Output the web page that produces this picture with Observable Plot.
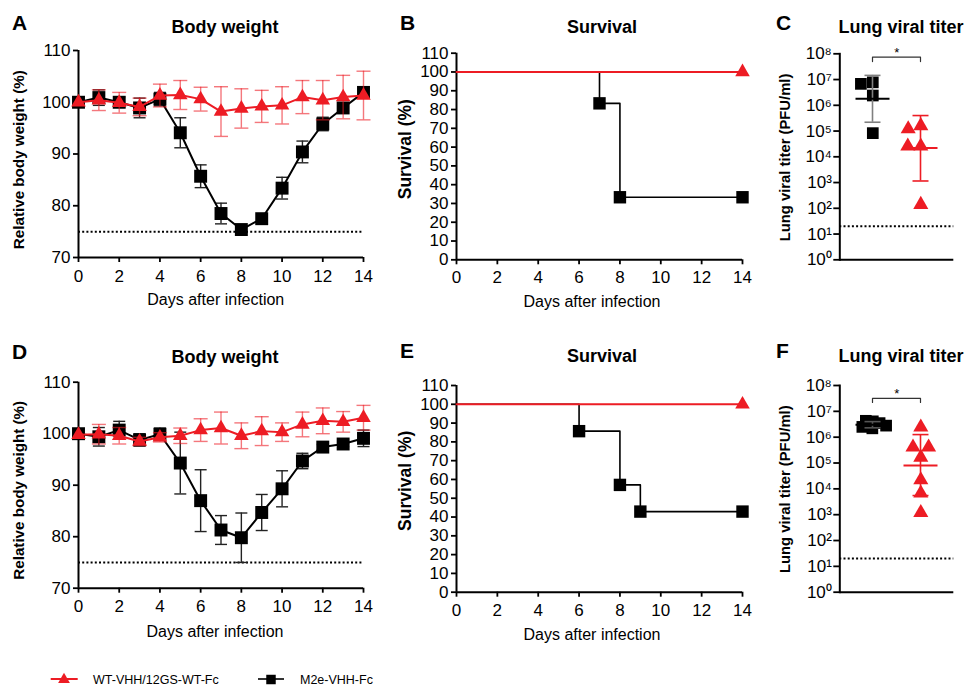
<!DOCTYPE html>
<html><head><meta charset="utf-8">
<script src="https://cdn.jsdelivr.net/npm/d3@7"></script>
<script src="https://cdn.jsdelivr.net/npm/@observablehq/plot@0.6"></script>
<style>
html,body{margin:0;padding:0;background:#fff;}
#fig{position:relative;width:968px;height:686px;overflow:hidden;font-family:"Liberation Sans",Arial,sans-serif;}
#fig .panel{position:absolute;}
#overlay{position:absolute;left:0;top:0;pointer-events:none;}
</style></head><body>
<div id="fig"></div>
<script>
// ---------- data ----------
const days = [0,1,2,3,4,5,6,7,8,9,10,11,12,13,14];
const dayTicks = [0,2,4,6,8,10,12,14];
const weightTicks = [70,80,90,100,110];
const survivalTicks = [0,10,20,30,40,50,60,70,80,90,100,110];
const titerTicks = [1,10,100,1e3,1e4,1e5,1e6,1e7,1e8];
const groups = ["M2e-VHH-Fc","WT-VHH/12GS-WT-Fc"];
const weightThreshold = 75;
const detectionLimit = 20;

// Panel A – body weight (%), mean and SD
const weightA_M2e   = [100,100.9,100.0,98.9,100.6,94.1,85.7,78.5,75.4,77.5,83.4,90.4,95.8,98.9,101.9];
const weightA_M2eSD = [0,1.5,1.0,1.9,1.3,2.9,2.2,2.0,0,0,2.1,2.1,1.3,0,0];
const weightA_WT    = [100,100.4,99.9,99.1,101.3,101.4,100.6,98.2,98.8,99.2,99.4,101.0,100.4,101.0,101.3];
const weightA_WTSD  = [0,2.0,2.0,1.7,2.2,2.8,2.3,4.8,3.8,3.1,3.6,3.2,3.8,4.2,4.7];

// Panel D – body weight (%), mean and SD
const weightD_M2e   = [100,99.4,100.7,98.8,99.9,94.3,87.0,81.3,79.8,84.7,89.3,94.7,97.4,98.0,99.1];
const weightD_M2eSD = [0,1.8,1.7,1.2,1.2,6.0,6.0,2.8,4.8,3.5,3.5,1.5,0.5,0.5,1.6];
const weightD_WT    = [99.8,99.9,99.6,98.5,99.3,99.6,100.7,101.1,99.6,100.5,100.3,101.8,102.5,102.3,103.1];
const weightD_WTSD  = [0,1.9,1.6,0.8,0.9,1.5,2.2,3.1,2.5,2.8,1.8,2.4,2.5,2.0,2.4];

// Panels B and E – survival (%)
const survB_M2eDays = [0,7,8,14];
const survB_M2e     = [100,83.3,33.3,33.3];
const survB_WTDays  = [0,14];
const survB_WT      = [100,100];
const survE_M2eDays = [0,6,8,9,14];
const survE_M2e     = [100,85.7,57.1,42.9,42.9];
const survE_WTDays  = [0,14];
const survE_WT      = [100,100];

// Panels C and F – lung viral titer (PFU/ml)
const titerC_M2e  = [8.3e4,7.8e6,6.8e6,2.4e6];
const titerC_WT   = [1.6e5,1.2e5,2.6e4,2.6e4,1.4e2];
const titerC_mean = [1.8e6,2.2e4];
const titerC_low  = [2.2e5,1.15e3];
const titerC_high = [1.45e7,4.0e5];
const bracketC    = [5.0e7,7.4e7];
const titerF_M2e  = [4.1e6,4.3e6,3.5e6,2.5e6,2.8e6,2.2e6];
const titerF_WT   = [2.45e6,1.66e5,2.2e4,6.8e3,1.2e3,4.1e5,4.1e5];
const titerF_mean = [3.0e6,8.1e4];
const titerF_low  = [2.3e6,5.5e3];
const titerF_high = [4.0e6,1.26e6];
const bracketF    = [2.2e7,3.2e7];

// ---------- styles ----------
const RED = "#ed1c24";
const BLACK = "#000";
const plotStyle = {fontFamily:'"Liberation Sans", Arial, sans-serif', fontSize:"17px", background:"transparent", overflow:"visible", color:"#000"};
const hbar = {draw(ctx, size){ const w = Math.sqrt(size/Math.PI); ctx.moveTo(-w,0); ctx.lineTo(w,0); }};
const supDigits = "⁰¹²³⁴⁵⁶⁷⁸⁹";
const pow10 = d => "10" + String(Math.round(Math.log10(d))).split("").map(c => supDigits[+c]).join("");

function errorMarks(data, color, opacity, cap) {
  const e = data.filter(d => d.sd > 0);
  return [
    Plot.ruleX(e, {x:"day", y1:d => d.v - d.sd, y2:d => d.v + d.sd, stroke:color, strokeOpacity:opacity, strokeWidth:1.4}),
    Plot.dot(e, {x:"day", y:d => d.v + d.sd, symbol:hbar, r:cap, fill:"none", stroke:color, strokeOpacity:opacity, strokeWidth:1.4}),
    Plot.dot(e, {x:"day", y:d => d.v - d.sd, symbol:hbar, r:cap, fill:"none", stroke:color, strokeOpacity:opacity, strokeWidth:1.4})
  ];
}

function weightPanel(m2eVals, m2eSD, wtVals, wtSD, mt, mb) {
  const m2e = days.map((d,i) => ({day:d, v:m2eVals[i], sd:m2eSD[i]}));
  const wt  = days.map((d,i) => ({day:d, v:wtVals[i], sd:wtSD[i]}));
  return Plot.plot({
    width:380, height:320, marginLeft:78, marginRight:17, marginTop:mt, marginBottom:mb,
    style:plotStyle,
    x:{domain:[0,14]}, y:{domain:[70,110]},
    marks:[
      Plot.ruleY([weightThreshold], {stroke:BLACK, strokeWidth:2, strokeDasharray:"2,2.2"}),
      Plot.axisX({ticks:dayTicks, tickSize:5, tickPadding:7, strokeWidth:1.8, label:null}),
      Plot.axisY({ticks:weightTicks, tickSize:5, tickPadding:3, strokeWidth:1.8, label:null}),
      Plot.ruleX([0], {strokeWidth:2}),
      Plot.ruleY([70], {strokeWidth:2}),
      ...errorMarks(m2e, "#222", 1, 6),
      Plot.line(m2e, {x:"day", y:"v", stroke:BLACK, strokeWidth:2}),
      Plot.dot(m2e, {x:"day", y:"v", symbol:"square", r:7.3, fill:BLACK}),
      ...errorMarks(wt, RED, 0.6, 7),
      Plot.line(wt, {x:"day", y:"v", stroke:RED, strokeWidth:2}),
      Plot.dot(wt, {x:"day", y:"v", symbol:"triangle", r:5.4, fill:RED})
    ]
  });
}

function survivalPanel(m2eDays, m2eVals, wtDays, wtVals, mt, mb) {
  const m2e = m2eDays.map((d,i) => ({day:d, v:m2eVals[i]}));
  const wt  = wtDays.map((d,i) => ({day:d, v:wtVals[i]}));
  return Plot.plot({
    width:390, height:320, marginLeft:76, marginRight:28, marginTop:mt, marginBottom:mb,
    style:plotStyle,
    x:{domain:[0,14]}, y:{domain:[0,110]},
    marks:[
      Plot.axisX({ticks:dayTicks, tickSize:5, tickPadding:6.5, strokeWidth:1.8, label:null}),
      Plot.axisY({ticks:survivalTicks, tickSize:5, tickPadding:3, strokeWidth:1.8, label:null}),
      Plot.ruleX([0], {strokeWidth:2}),
      Plot.ruleY([0], {strokeWidth:2}),
      Plot.line(m2e, {x:"day", y:"v", curve:"step-after", stroke:BLACK, strokeWidth:1.6}),
      Plot.dot(m2e.filter(d => d.day > 0), {x:"day", y:"v", symbol:"square", r:7, fill:BLACK}),
      Plot.line(wt, {x:"day", y:"v", stroke:RED, strokeWidth:2}),
      Plot.dot(wt.filter(d => d.day > 0), {x:"day", y:"v", symbol:"triangle", r:5.4, fill:RED})
    ]
  });
}

function titerPanel(m2eVals, wtVals, means, lows, highs, bracket, mt, mb, barGray, collideM, collideW) {
  const stats = groups.map((g,i) => ({g, mean:means[i], lo:lows[i], hi:highs[i]}));
  const bar = [barGray, RED];
  const br = [{g:groups[0], v:bracket[0]}, {g:groups[0], v:bracket[1]}, {g:groups[1], v:bracket[1]}, {g:groups[1], v:bracket[0]}];
  return Plot.plot({
    width:208, height:320, marginLeft:79.3, marginRight:14.7, marginTop:mt, marginBottom:mb,
    style:plotStyle,
    x:{type:"point", domain:groups, padding:0.6875, axis:null},
    y:{type:"log", domain:[1,1e8]},
    marks:[
      Plot.ruleY([detectionLimit], {stroke:BLACK, strokeWidth:2, strokeDasharray:"2,2.2"}),
      Plot.axisY({ticks:titerTicks, tickFormat:pow10, tickSize:6, tickPadding:2, strokeWidth:1.8, label:null}),
      Plot.frame({anchor:"left", strokeWidth:2}),
      Plot.ruleY([1], {strokeWidth:2}),
      Plot.dot(m2eVals, Plot.dodgeX({anchor:"middle", padding:0, r:collideM}, {y:d => d, symbol:"square", r:6.6, fill:BLACK, dx:-24})),
      Plot.dot(wtVals, Plot.dodgeX({anchor:"middle", padding:0, r:collideW}, {y:d => d, symbol:"triangle", r:5.6, fill:RED, dx:24})),
      Plot.ruleX(stats, {x:"g", y1:"lo", y2:"hi", stroke:(d,i) => bar[i], strokeWidth:1.6}),
      Plot.dot(stats, {x:"g", y:"lo", symbol:hbar, r:8, fill:"none", stroke:(d,i) => bar[i], strokeWidth:1.6}),
      Plot.dot(stats, {x:"g", y:"hi", symbol:hbar, r:8, fill:"none", stroke:(d,i) => bar[i], strokeWidth:1.6}),
      Plot.dot(stats, {x:"g", y:"mean", symbol:hbar, r:17, fill:"none", stroke:(d,i) => i ? RED : BLACK, strokeWidth:2}),
      Plot.line(br, {x:"g", y:"v", stroke:"#333", strokeWidth:1.2}),
      Plot.text(["*"], {y:() => bracket[1], text:d => d, frameAnchor:"middle", dy:-4, fontSize:13})
    ]
  });
}

// ---------- layout ----------
const fig = document.getElementById("fig");
function place(svg, left, top) {
  const wrap = document.createElement("div");
  wrap.className = "panel";
  wrap.style.left = left + "px";
  wrap.style.top = top + "px";
  wrap.appendChild(svg);
  fig.appendChild(wrap);
}
place(weightPanel(weightA_M2e, weightA_M2eSD, weightA_WT, weightA_WTSD, 50, 63), 0, 0);
place(survivalPanel(survB_M2eDays, survB_M2e, survB_WTDays, survB_WT, 52.7, 60.7), 380, 0);
place(titerPanel(titerC_M2e, titerC_WT, titerC_mean, titerC_low, titerC_high, bracketC, 53.3, 60.7, "#808080", 6, 6.5), 760, 0);
place(weightPanel(weightD_M2e, weightD_M2eSD, weightD_WT, weightD_WTSD, 51.7, 62.3), 0, 330);
place(survivalPanel(survE_M2eDays, survE_M2e, survE_WTDays, survE_WT, 55, 58.3), 380, 330);
place(titerPanel(titerF_M2e, titerF_WT, titerF_mean, titerF_low, titerF_high, bracketF, 55, 58.3, "#555", 3.5, 6.4), 760, 330);

// ---------- text overlay: panel letters, titles, axis labels, legend ----------
const letters = [["A",12,30],["B",400,29.5],["C",776,29.5],["D",12,358.5],["E",400,358],["F",776,358]];
const titles = [["Body weight",225,33.3],["Survival",602,32.7],["Lung viral titer",901,32.7],
                ["Body weight",225,363.3],["Survival",602,362],["Lung viral titer",901,362]];
const xLabels = [[215.8,305],[592,306.5],[215,636.5],[592,639.5]];
const yLabels = [["Relative body weight (%)",23.5,159.7,15.2],["Survival (%)",411,149.2,17.5],["Lung viral titer (PFU/ml)",789.5,157.5,14.8],
                 ["Relative body weight (%)",23.5,490.3,15.2],["Survival (%)",411,480.8,17.5],["Lung viral titer (PFU/ml)",789.5,489.2,14.8]];
let s = '<svg id="overlay" width="968" height="686" xmlns="http://www.w3.org/2000/svg" font-family="Liberation Sans, Arial, sans-serif">';
for (const [t,x,y] of letters) s += `<text x="${x}" y="${y}" font-size="21" font-weight="bold">${t}</text>`;
for (const [t,x,y] of titles) s += `<text x="${x}" y="${y}" font-size="18" font-weight="bold" text-anchor="middle">${t}</text>`;
for (const [x,y] of xLabels) s += `<text x="${x}" y="${y}" font-size="16" text-anchor="middle">Days after infection</text>`;
for (const [t,x,y,f] of yLabels) s += `<text transform="translate(${x},${y}) rotate(-90)" font-size="${f}" font-weight="bold" text-anchor="middle">${t}</text>`;
// legend
s += `<line x1="50.7" x2="77.7" y1="679" y2="679" stroke="${RED}" stroke-width="2"/>`;
s += `<path transform="translate(64,679.5)" d="${d3.symbol(d3.symbolTriangle, 60)()}" fill="${RED}"/>`;
s += `<text x="93" y="683.5" font-size="12.5">${groups[1]}</text>`;
s += `<line x1="258" x2="284" y1="679" y2="679" stroke="#000" stroke-width="1.6"/>`;
s += `<path transform="translate(271,679.5)" d="${d3.symbol(d3.symbolSquare, 90)()}" fill="#000"/>`;
s += `<text x="300" y="683.5" font-size="12.5">${groups[0]}</text>`;
s += '</svg>';
fig.insertAdjacentHTML("beforeend", s);
</script>
</body></html>
